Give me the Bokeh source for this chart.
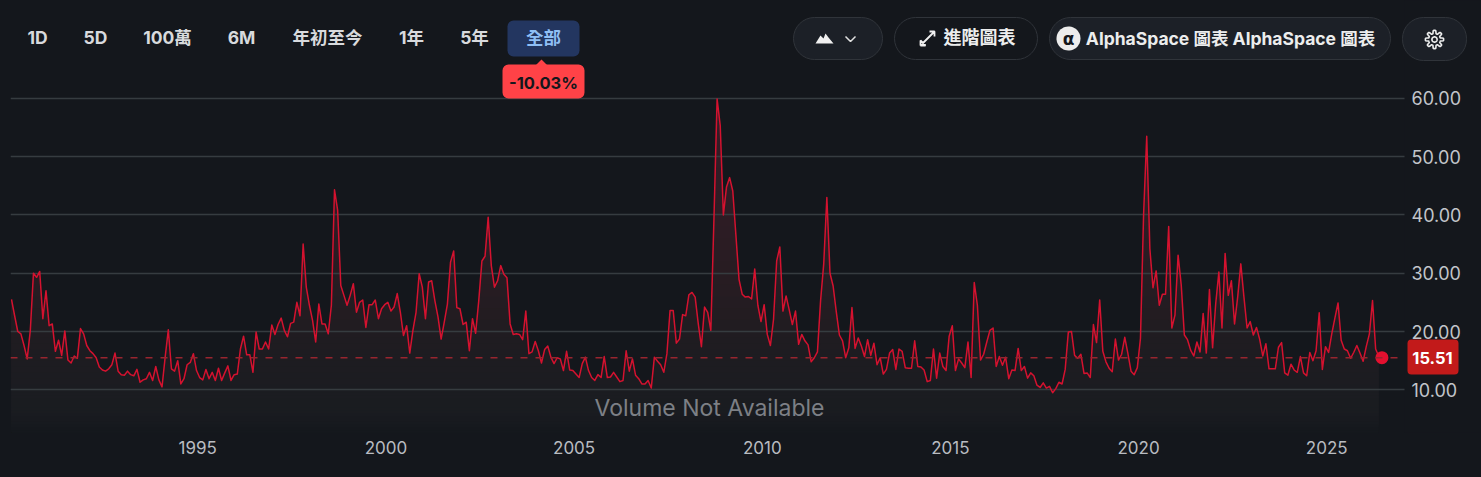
import numpy as np
from bokeh.plotting import figure
from bokeh.embed import file_html
from bokeh.resources import INLINE
from bokeh.models import (BoxAnnotation, Label, PolyAnnotation, Span, FixedTicker)

# ---------- data ----------
y1990 = [25.5, 22.7, 20.0, 19.6, 17.6, 15.3, 20.2, 30.0, 29.3, 30.3, 22.2, 27.0]
y1991 = [21.0, 21.3, 16.6, 18.5, 15.9, 20.1, 15.1, 14.6, 15.8, 15.4, 20.5, 19.6]
y1992 = [17.6, 16.7, 16.2, 15.5, 13.9, 13.4, 13.2, 13.6, 14.3, 16.3, 13.2, 12.6]
y1993 = [12.5, 13.2, 12.6, 12.4, 13.5, 11.3, 11.7, 11.9, 13.0, 11.6, 14.0, 11.7]
y1994 = [10.5, 15.6, 20.3, 13.6, 13.2, 15.0, 11.0, 11.9, 14.3, 14.7, 16.2, 13.3]
y1995 = [12.1, 11.7, 13.5, 11.9, 13.0, 11.6, 13.7, 11.6, 12.9, 14.1, 11.6, 12.6]
y1996 = [12.7, 17.0, 19.2, 16.0, 16.0, 13.0, 19.9, 17.0, 17.0, 18.2, 17.0, 21.1]
y1997 = [19.5, 21.2, 22.3, 20.2, 19.1, 21.4, 21.6, 25.0, 22.7, 35.0, 27.6, 24.5]
y1998 = [21.9, 18.2, 24.7, 21.3, 21.3, 19.6, 24.5, 44.3, 40.8, 27.9, 26.2, 24.5]
y1999 = [26.2, 28.2, 23.3, 25.0, 25.4, 20.7, 24.6, 24.6, 25.4, 22.2, 23.9, 24.6]
y2000 = [25.0, 23.5, 24.2, 26.5, 23.3, 19.3, 21.0, 16.3, 20.2, 23.3, 29.9, 27.6]
y2001 = [22.2, 28.5, 28.7, 25.3, 22.5, 18.7, 21.6, 24.7, 31.9, 33.8, 24.1, 23.9]
y2002 = [21.2, 21.6, 16.7, 22.2, 19.7, 25.3, 32.1, 32.9, 39.6, 31.3, 27.6, 28.7]
y2003 = [31.3, 29.8, 29.2, 21.3, 19.5, 19.6, 19.5, 18.6, 23.5, 16.2, 16.5, 18.3]
y2004 = [16.7, 14.6, 16.9, 17.5, 15.6, 14.5, 15.5, 15.3, 13.3, 16.6, 13.4, 13.3]
y2005 = [12.7, 12.1, 14.5, 15.6, 13.3, 12.1, 11.6, 12.6, 12.1, 15.7, 12.1, 12.2]
y2006 = [13.0, 12.2, 11.4, 11.6, 16.7, 13.2, 15.3, 12.5, 11.9, 11.0, 11.0, 11.6]
y2007 = [10.3, 15.6, 14.9, 14.3, 13.0, 16.2, 23.6, 23.6, 18.0, 18.7, 22.9, 22.7]
y2008 = [26.3, 26.7, 25.9, 21.3, 17.4, 24.2, 23.3, 20.2, 39.4, 59.9, 55.3, 40.0]
y2009 = [44.8, 46.4, 44.1, 36.5, 28.9, 26.4, 25.9, 26.0, 25.6, 30.7, 24.5, 21.7]
y2010 = [24.6, 19.5, 17.6, 22.1, 32.1, 34.5, 23.5, 26.1, 23.7, 21.2, 23.5, 17.8]
y2011 = [19.5, 18.4, 17.7, 14.8, 15.5, 16.5, 25.3, 31.6, 43.0, 30.0, 27.8, 23.4]
y2012 = [19.4, 18.4, 15.5, 17.2, 24.1, 17.1, 18.9, 17.5, 15.7, 18.6, 15.9, 18.0]
y2013 = [14.3, 15.5, 12.7, 13.5, 16.3, 16.9, 13.5, 17.0, 16.6, 13.8, 13.7, 13.7]
y2014 = [18.4, 14.0, 13.9, 13.4, 11.4, 11.6, 17.0, 12.0, 16.3, 14.0, 13.3, 19.2]
y2015 = [21.0, 13.3, 15.3, 14.6, 13.8, 18.2, 12.1, 28.4, 24.5, 15.1, 16.1, 18.2]
y2016 = [20.2, 20.6, 14.0, 15.7, 14.2, 15.6, 11.9, 13.4, 13.3, 17.1, 13.3, 14.0]
y2017 = [12.0, 12.9, 12.4, 10.8, 10.4, 11.2, 10.3, 10.6, 9.5, 10.2, 11.3, 11.0]
y2018 = [13.5, 19.9, 20.0, 15.9, 15.4, 16.1, 12.8, 12.9, 12.1, 21.2, 18.1, 25.4]
y2019 = [16.6, 14.8, 13.7, 13.1, 18.7, 15.1, 16.1, 19.0, 16.2, 13.2, 12.6, 13.8]
y2020 = [18.8, 40.1, 53.5, 34.2, 27.5, 30.4, 24.5, 26.4, 26.4, 38.0, 20.6, 22.8]
y2021 = [33.1, 28.0, 19.4, 18.6, 16.8, 15.8, 18.2, 16.5, 23.1, 16.3, 27.2, 17.2]
y2022 = [24.8, 30.2, 20.6, 33.4, 26.2, 28.7, 21.3, 25.9, 31.6, 25.9, 20.6, 21.7]
y2023 = [19.4, 20.7, 18.7, 15.8, 17.9, 13.6, 13.6, 13.6, 17.3, 18.1, 12.9, 12.5]
y2024 = [14.4, 13.4, 13.0, 15.7, 12.9, 12.4, 16.4, 15.0, 16.7, 23.2, 13.5, 17.4]
y2025 = [16.4, 19.6, 22.3, 24.9, 18.5, 17.0, 16.7, 15.4, 16.4, 17.6, 16.3, 14.9]
y2026 = [17.4, 19.6, 25.3, 17.0, 15.7]
last_value = 15.51

y_ticks = [10, 20, 30, 40, 50, 60]
year_labels = ["1995", "2000", "2005", "2010", "2015", "2020", "2025"]
range_labels = ["1D", "5D", "100萬", "6M", "年初至今", "1年", "5年"]
active_range = "全部"
change_text = "-10.03%"
volume_text = "Volume Not Available"
pill_advanced = "進階圖表"
pill_alpha = "AlphaSpace 圖表 AlphaSpace 圖表"

values = (y1990 + y1991 + y1992 + y1993 + y1994 + y1995 + y1996 + y1997 + y1998 + y1999 +
          y2000 + y2001 + y2002 + y2003 + y2004 + y2005 + y2006 + y2007 + y2008 + y2009 +
          y2010 + y2011 + y2012 + y2013 + y2014 + y2015 + y2016 + y2017 + y2018 + y2019 +
          y2020 + y2021 + y2022 + y2023 + y2024 + y2025 + y2026)
months = np.arange(len(values), dtype=float)
vals = np.array(values, dtype=float)

# ---------- layout ----------
BG = "#14171c"
FONT = "Inter, 'Noto Sans CJK TC', sans-serif"
W, H = 1481, 477
F_L, F_R, F_T, F_B = 10, 1481, 0, 432      # frame, in page pixels
GRID_END = 1404
PX_M0, PX_PER_M = 11.0, 3.136              # month axis
PX_V10, PX_PER_V = 389.3, 5.83             # value axis


def m_of(px):
    return (px - PX_M0) / PX_PER_M


def v_of(py):
    return 10 + (PX_V10 - py) / PX_PER_V


p = figure(width=W, height=H, output_backend="svg", toolbar_location=None,
           x_range=(m_of(F_L), m_of(F_R)), y_range=(v_of(F_B), v_of(F_T)),
           y_axis_location="right", min_border_left=F_L, min_border_right=W - F_R,
           min_border_top=F_T, min_border_bottom=H - F_B,
           background_fill_color=None, border_fill_color=None, outline_line_color=None,
           styles={"background-color": BG})

# gradient area: painted from the tallest band to the lowest
base = v_of(F_B)
stops_v = [base, v_of(425), 5, 7, 10, 15, 20, 30, 40, 60]
stops_c = [(0x14, 0x17, 0x1c), (0x16, 0x19, 0x1e), (0x18, 0x1a, 0x1f), (0x1a, 0x1c, 0x20), (0x1b, 0x1c, 0x21),
           (0x1d, 0x1c, 0x21), (0x20, 0x1c, 0x21), (0x27, 0x1c, 0x22), (0x2d, 0x1c, 0x24),
           (0x35, 0x1c, 0x26)]
levels = list(np.arange(60, 20, -2.0)) + list(np.arange(20, 10, -1.0)) + list(np.arange(10, base, -0.5))
for lv in levels:
    col = "#%02x%02x%02x" % tuple(int(round(np.interp(lv, stops_v, [c[k] for c in stops_c]))) for k in range(3))
    r = p.varea(months, np.full(len(vals), base), np.minimum(vals, lv), fill_color=col)
    r.level = "image"

# grid
p.xgrid.visible = False
p.ygrid.ticker = FixedTicker(ticks=y_ticks)
p.ygrid.grid_line_color = "#363c40"
p.ygrid.grid_line_width = 1.5

# last-value line
span = Span(location=last_value, dimension="width", line_color="#98252f", line_width=1.5, line_dash="7 8")
span.level = "glyph"
p.add_layout(span)

# series
p.line(months, vals, line_color="#d4122f", line_width=1.5, line_join="round")
p.scatter([months[-1] + 1], [last_value], size=13, fill_color="#e3102f", line_color=None)

# axes
ax = p.yaxis[0]
ax.ticker = FixedTicker(ticks=y_ticks)
ax.major_label_overrides = {t: "%.2f" % t for t in y_ticks}
ax.axis_line_color = None
ax.major_tick_line_color = None
ax.minor_tick_line_color = None
ax.major_label_standoff = 1405 - F_R
ax.major_label_text_font = FONT
ax.major_label_text_font_size = "18px"
ax.major_label_text_color = "#c2c5ca"

xa = p.xaxis[0]
x_pos = [(int(t) - 1990) * 12 - 0.6 for t in year_labels]
xa.ticker = FixedTicker(ticks=x_pos)
xa.major_label_overrides = dict(zip(x_pos, year_labels))
xa.axis_line_color = None
xa.major_tick_line_color = None
xa.minor_tick_line_color = None
xa.major_label_standoff = 2
xa.major_label_text_font = FONT
xa.major_label_text_font_size = "17px"
xa.major_label_text_color = "#b9bcc1"


# ---------- page chrome, in page pixels ----------
def sx(px):
    return px - F_L


def sy(py):
    return F_B - py


def box(l, t, r, b, fill, line=None, radius=0, level="annotation"):
    a = BoxAnnotation(left=sx(l), right=sx(r), top=sy(t), bottom=sy(b),
                      left_units="screen", right_units="screen", top_units="screen", bottom_units="screen",
                      fill_color=fill, fill_alpha=1.0, line_color=line, line_alpha=1.0 if line else 0.0,
                      line_width=1, border_radius=radius, level=level)
    p.add_layout(a)


def txt(cx, cy, s, size, color, bold=True, align="center", font=FONT):
    p.add_layout(Label(x=sx(cx), y=sy(cy), x_units="screen", y_units="screen", text=s,
                       text_font=font, text_font_size=f"{size}px", text_color=color,
                       text_font_style="bold" if bold else "normal",
                       text_align=align, text_baseline="middle"))


def poly(xs, ys, fill=None, line=None, width=1.5):
    p.add_layout(PolyAnnotation(xs=[sx(v) for v in xs], ys=[sy(v) for v in ys],
                                xs_units="screen", ys_units="screen",
                                fill_color=fill or BG, fill_alpha=1.0 if fill else 0.0,
                                line_color=line or BG, line_alpha=1.0 if line else 0.0, line_width=width))


# hides the grid and dashes right of where they end in the picture
box(GRID_END, 0, F_R, F_B, BG, level="glyph")

range_cx = [37, 95, 167, 241, 327, 411, 474]
for cx, s in zip(range_cx, range_labels):
    txt(cx, 37, s, 17.5, "#d8dadd")

box(507, 20, 579, 56, "#233660", radius=6)
txt(543, 37, active_range, 17.5, "#8fbff5")

poly([535, 541, 547], [65, 59, 65], fill="#ff4247")
box(502, 64, 584, 98, "#ff4247", radius=6)
txt(543, 82, change_text, 16.5, "#14171c")

# mountain pill
box(793, 17, 882, 59, "#1c2027", "#30343a", 21)
poly([815, 820, 823, 825, 828, 833], [43, 35, 38, 33, 37, 43], fill="#f0f0f0")
poly([845, 850, 855, 850, 845], [36, 41, 36, 41, 36], line="#e0e0e0", width=1.5)

# advanced-chart pill
box(894, 17, 1037, 59, BG, "#30343a", 21)
poly([920, 934, 929, 934, 934, 934, 920, 920, 925, 920, 920],
     [45, 31, 31, 31, 36, 31, 45, 40, 45, 45, 45], line="#f0f0f0", width=1.8)
txt(979, 37, pill_advanced, 18, "#eceded")

# AlphaSpace pill
box(1049, 17, 1390, 59, "#1c2027", "#30343a", 21)
th = np.linspace(0, 2 * np.pi, 48)
poly(list(1068 + 12 * np.cos(th)), list(38 + 12 * np.sin(th)), fill="#ececec")
txt(1068, 38, "α", 17, "#14171c", font="'DejaVu Sans'")
txt(1230, 38, pill_alpha, 17.5, "#eceded")

# settings pill
box(1402, 17, 1466, 60, "#1c2027", "#30343a", 21)
gth = np.linspace(0, 2 * np.pi, 97)
gr = 7.5 + 1.6 * np.clip(3 * np.cos(8 * gth), -1, 1)
poly(list(1434 + gr * np.cos(gth)), list(39 + gr * np.sin(gth)), line="#eceded", width=1.6)
poly(list(1434 + 2.6 * np.cos(th)), list(39 + 2.6 * np.sin(th)), line="#eceded", width=1.6)

# volume note
txt(709, 407, volume_text, 23, "#7d8086", bold=False)

# value badge
box(1407, 339, 1458, 374, "#c21a1a", radius=4)
txt(1432, 357, "%.2f" % last_value, 16.5, "#ffffff")

open("out.html", "w").write(file_html(p, INLINE))
